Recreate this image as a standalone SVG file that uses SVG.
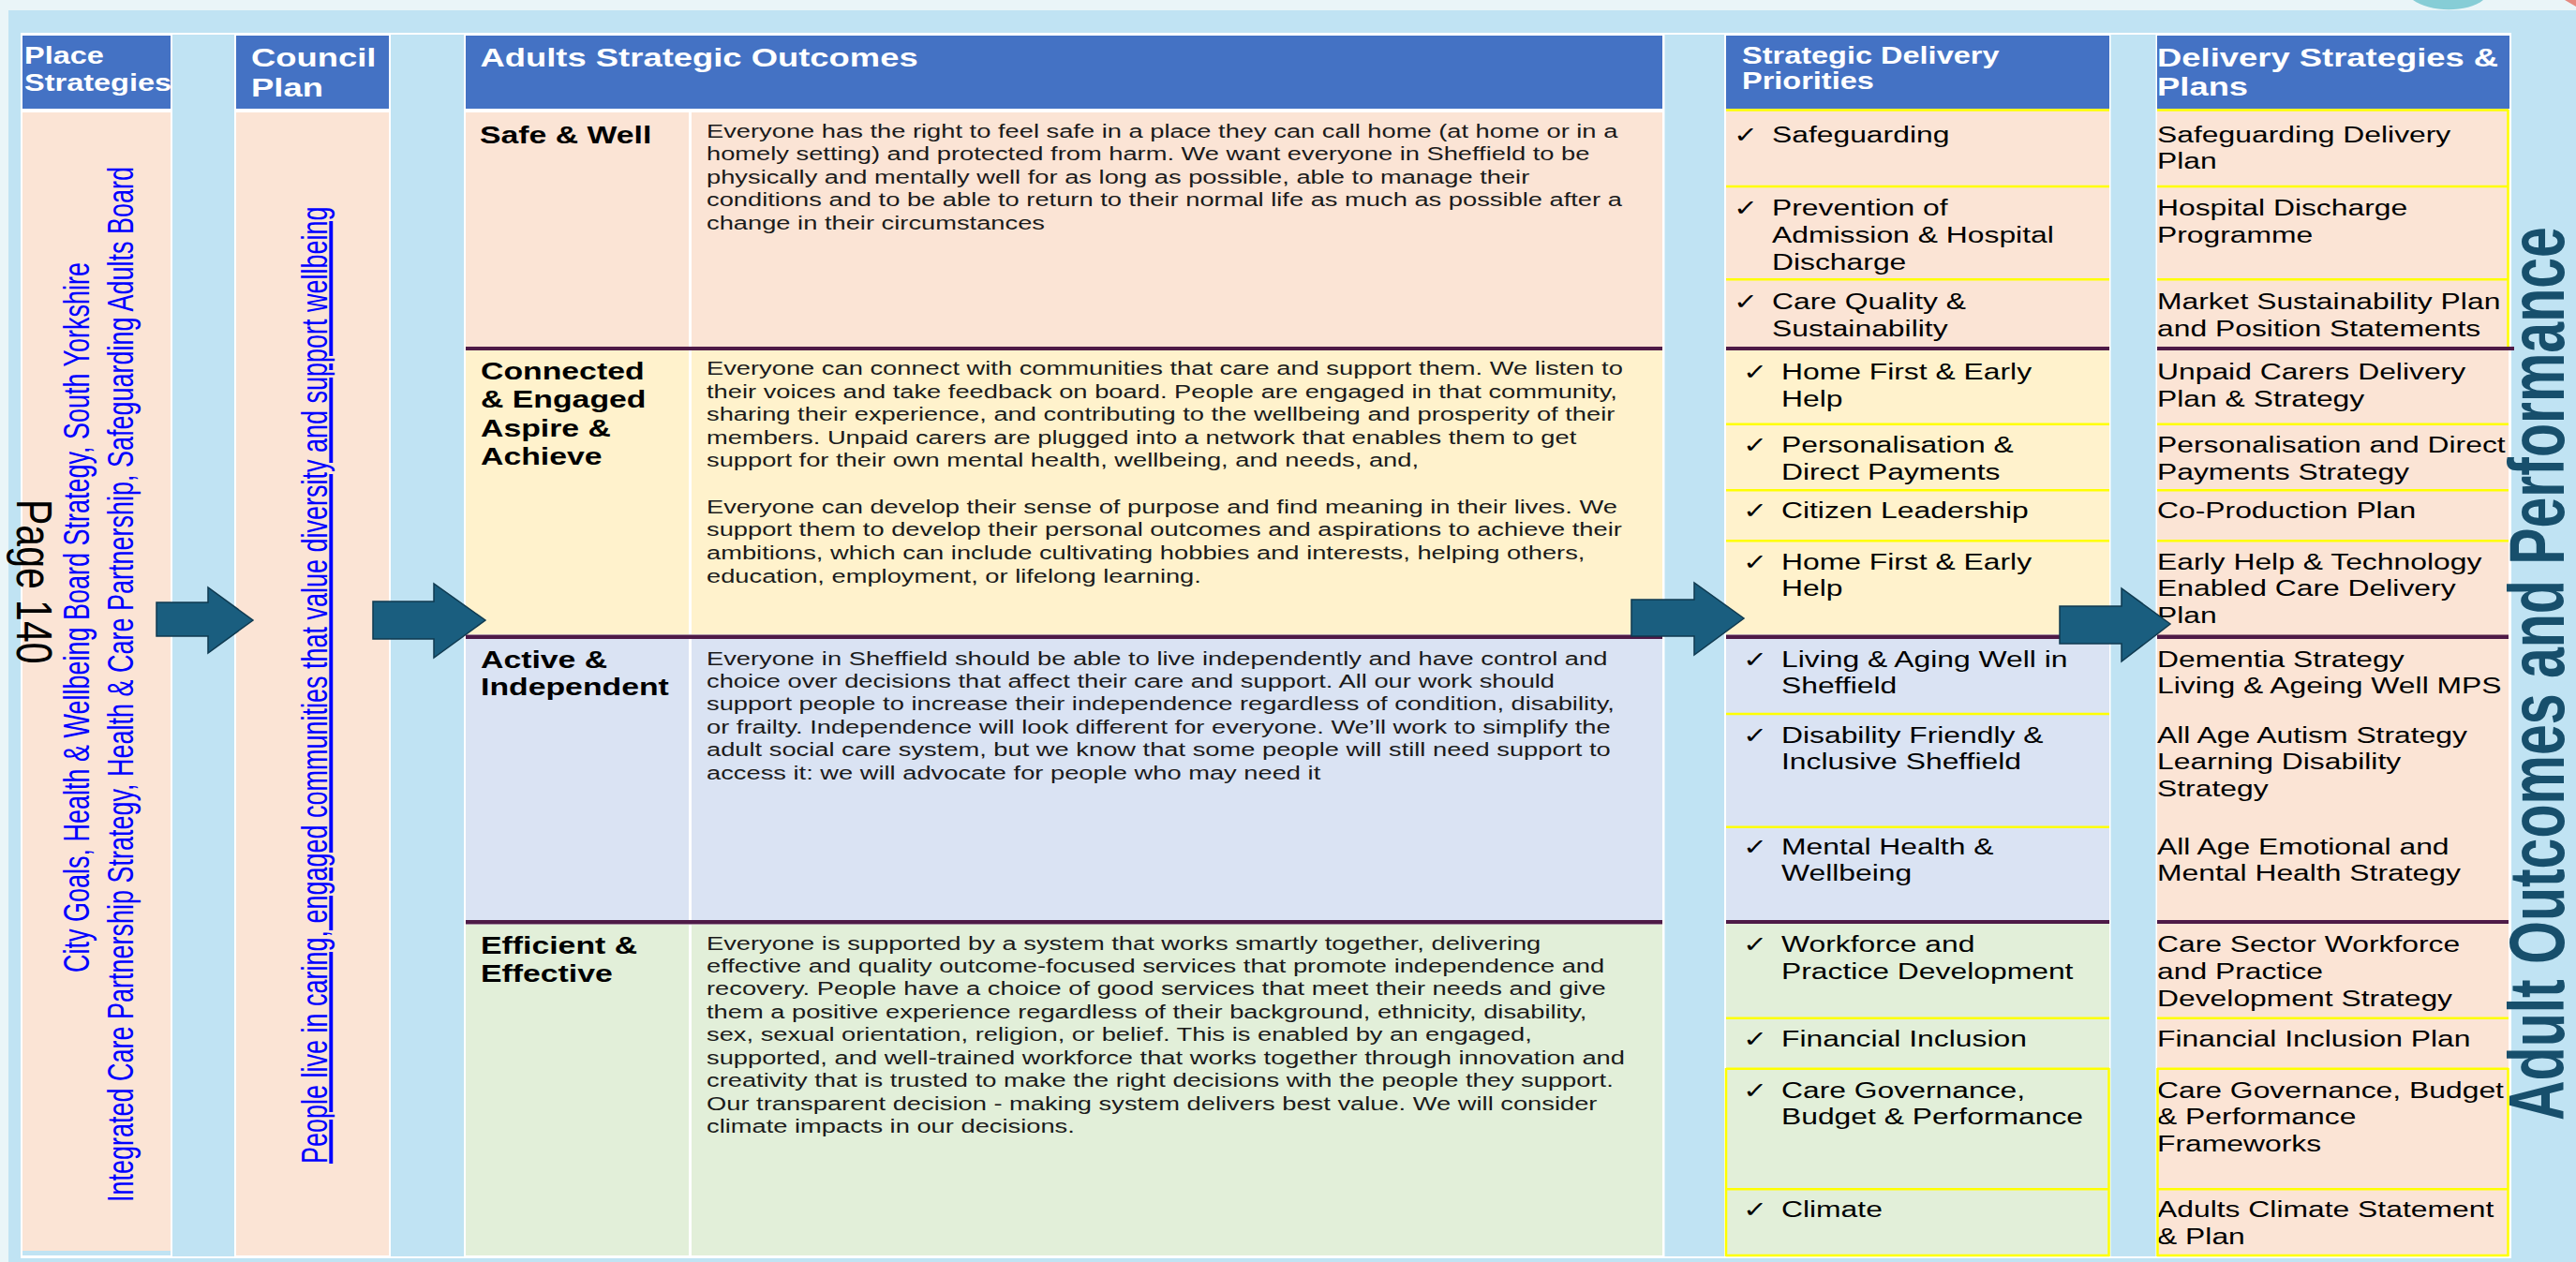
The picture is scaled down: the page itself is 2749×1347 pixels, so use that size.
<svg xmlns="http://www.w3.org/2000/svg" width="2749" height="1347" viewBox="0 0 2749 1347">
<style>
.t{font-family:'Liberation Sans',Arial,Helvetica,sans-serif}
.hdr{font-weight:bold;fill:#ffffff}
.h25{font-size:25px}
.h28{font-size:28px}
.ttl{font-weight:bold;font-size:26px;fill:#000}
.desc{font-size:21px;fill:#1a1a1a}
.item{font-size:24.5px;fill:#000}
.chk{font-family:'DejaVu Sans',sans-serif;font-size:24px}
.link{font-size:27px;fill:#0000ff}
.pg{font-size:41px;fill:#000}
.side{font-weight:bold;font-size:59px;fill:#174f6c}
.hb{fill:#4472c4}
.peach{fill:#fbe4d5}
.yel{fill:#fff2cc}
.lav{fill:#dae3f3}
.grn{fill:#e2efd9}
.gap{fill:#c0e3f3}
.pl{fill:#4e1a47}
.yl{stroke:#ffff00;stroke-width:2.5;fill:none}
.wl{fill:#ffffff}
.arrow{fill:#1a5e7f;stroke:#0f3a50;stroke-width:1.5}
</style>
<!-- background -->
<rect x="0" y="0" width="2749" height="1347" fill="#eaf5f8"/>
<rect x="9" y="11" width="2740" height="1336" class="gap"/>
<path d="M2575,0 C2592,13 2633,14 2650,0 Z" fill="#86cdd6"/>
<path d="M2737,0 L2749,0 L2749,7 Z" fill="#e58a80"/>
<!-- table frame -->
<rect x="22" y="35" width="2658" height="1308" fill="#ffffff"/>
<rect x="184" y="37" width="66" height="1304" class="gap"/>
<rect x="417" y="37" width="78" height="1304" class="gap"/>
<rect x="1776.5" y="37" width="63.5" height="1304" class="gap"/>
<rect x="2252.5" y="37" width="48" height="1304" class="gap"/>

<g id="place-strategies">
<rect x="24" y="38" width="158" height="78" class="hb"/>
<rect x="24" y="120" width="158" height="1215" class="peach"/>
<rect x="24" y="1335" width="158" height="5" class="gap"/>
<text class="t hdr h25" transform="translate(26,68) scale(1.3,1)"><tspan x="0" y="0">Place</tspan><tspan x="0" y="29">Strategies</tspan></text>
<text class="t link" transform="translate(95,1038) scale(1.45,1) rotate(-90)">City Goals, Health &amp; Wellbeing Board Strategy, South Yorkshire</text>
<text class="t link" transform="translate(142,1283) scale(1.45,1) rotate(-90)">Integrated Care Partnership Strategy, Health &amp; Care Partnership, Safeguarding Adults Board</text>
<text class="t pg" transform="translate(18,533) scale(1.3,1) rotate(90)">Page 140</text>
</g>

<g id="council-plan">
<rect x="252" y="38" width="163" height="78" class="hb"/>
<rect x="252" y="120" width="163" height="1220" class="peach"/>
<text class="t hdr h28" transform="translate(268,71) scale(1.3,1)"><tspan x="0" y="0">Council</tspan><tspan x="0" y="32">Plan</tspan></text>
<text class="t link" text-decoration="underline" transform="translate(349,1242) scale(1.45,1) rotate(-90)">People live in caring, engaged communities that value diversity and support wellbeing</text>
</g>

<g id="adults-strategic-outcomes">
<rect x="497" y="38" width="1277" height="78" class="hb"/>
<text class="t hdr h28" transform="translate(512.5,71) scale(1.3,1)">Adults Strategic Outcomes</text>
<g id="outcome-safe-well">
<rect x="497" y="120" width="1277" height="250" class="peach"/>
<rect x="735" y="120" width="3" height="250" class="wl"/>
<text class="t ttl" transform="translate(512,152.5) scale(1.3,1)">Safe &amp; Well</text>
<text class="t desc" transform="translate(754,147) scale(1.3,1)"><tspan x="0" y="0">Everyone has the right to feel safe in a place they can call home (at home or in a</tspan><tspan x="0" y="24.5">homely setting) and protected from harm. We want everyone in Sheffield to be</tspan><tspan x="0" y="49">physically and mentally well for as long as possible, able to manage their</tspan><tspan x="0" y="73.5">conditions and to be able to return to their normal life as much as possible after a</tspan><tspan x="0" y="98">change in their circumstances</tspan></text>
</g>
<g id="outcome-connected">
<rect x="497" y="374" width="1277" height="303" class="yel"/>
<rect x="735" y="374" width="3" height="303" class="wl"/>
<text class="t ttl" transform="translate(513,405) scale(1.3,1)"><tspan x="0" y="0">Connected</tspan><tspan x="0" y="30.5">&amp; Engaged</tspan><tspan x="0" y="61">Aspire &amp;</tspan><tspan x="0" y="91.5">Achieve</tspan></text>
<text class="t desc" transform="translate(754,400) scale(1.3,1)"><tspan x="0" y="0">Everyone can connect with communities that care and support them. We listen to</tspan><tspan x="0" y="24.6">their voices and take feedback on board. People are engaged in that community,</tspan><tspan x="0" y="49.2">sharing their experience, and contributing to the wellbeing and prosperity of their</tspan><tspan x="0" y="73.8">members. Unpaid carers are plugged into a network that enables them to get</tspan><tspan x="0" y="98.4">support for their own mental health, wellbeing, and needs, and,</tspan><tspan x="0" y="147.8">Everyone can develop their sense of purpose and find meaning in their lives. We</tspan><tspan x="0" y="172.4">support them to develop their personal outcomes and aspirations to achieve their</tspan><tspan x="0" y="197">ambitions, which can include cultivating hobbies and interests, helping others,</tspan><tspan x="0" y="221.6">education, employment, or lifelong learning.</tspan></text>
</g>
<g id="outcome-active">
<rect x="497" y="682" width="1277" height="300" class="lav"/>
<rect x="735" y="682" width="3" height="300" class="wl"/>
<text class="t ttl" transform="translate(513,712.5) scale(1.3,1)"><tspan x="0" y="0">Active &amp;</tspan><tspan x="0" y="30">Independent</tspan></text>
<text class="t desc" transform="translate(754,709.5) scale(1.3,1)"><tspan x="0" y="0">Everyone in Sheffield should be able to live independently and have control and</tspan><tspan x="0" y="24.5">choice over decisions that affect their care and support. All our work should</tspan><tspan x="0" y="49">support people to increase their independence regardless of condition, disability,</tspan><tspan x="0" y="73.5">or frailty. Independence will look different for everyone. We’ll work to simplify the</tspan><tspan x="0" y="98">adult social care system, but we know that some people will still need support to</tspan><tspan x="0" y="122.5">access it: we will advocate for people who may need it</tspan></text>
</g>
<g id="outcome-efficient">
<rect x="497" y="987" width="1277" height="353" class="grn"/>
<rect x="735" y="987" width="3" height="353" class="wl"/>
<text class="t ttl" transform="translate(513,1018) scale(1.3,1)"><tspan x="0" y="0">Efficient &amp;</tspan><tspan x="0" y="30">Effective</tspan></text>
<text class="t desc" transform="translate(754,1013.5) scale(1.3,1)"><tspan x="0" y="0">Everyone is supported by a system that works smartly together, delivering</tspan><tspan x="0" y="24.5">effective and quality outcome-focused services that promote independence and</tspan><tspan x="0" y="49">recovery. People have a choice of good services that meet their needs and give</tspan><tspan x="0" y="73.5">them a positive experience regardless of their background, ethnicity, disability,</tspan><tspan x="0" y="98">sex, sexual orientation, religion, or belief. This is enabled by an engaged,</tspan><tspan x="0" y="122.5">supported, and well-trained workforce that works together through innovation and</tspan><tspan x="0" y="147">creativity that is trusted to make the right decisions with the people they support.</tspan><tspan x="0" y="171.5">Our transparent decision - making system delivers best value. We will consider</tspan><tspan x="0" y="196">climate impacts in our decisions.</tspan></text>
</g>
</g>

<g id="strategic-delivery-priorities">
<rect x="1842" y="38" width="409" height="78" class="hb"/>
<text class="t hdr h25" transform="translate(1859,68.3) scale(1.3,1)"><tspan x="0" y="0">Strategic Delivery</tspan><tspan x="0" y="27">Priorities</tspan></text>
<rect x="1842" y="116" width="409" height="254" class="peach"/>
<rect x="1842" y="374" width="409" height="303" class="yel"/>
<rect x="1842" y="682" width="409" height="300" class="lav"/>
<rect x="1842" y="986" width="409" height="355" class="grn"/>
<text class="t item" transform="translate(1850,151.7) scale(1.3,1)"><tspan class="chk" x="0" y="0">✓</tspan><tspan x="31.5" y="0">Safeguarding</tspan></text>
<text class="t item" transform="translate(1850,230) scale(1.3,1)"><tspan class="chk" x="0" y="0">✓</tspan><tspan x="31.5" y="0">Prevention of</tspan><tspan x="31.5" y="28.8">Admission &amp; Hospital</tspan><tspan x="31.5" y="57.6">Discharge</tspan></text>
<text class="t item" transform="translate(1850,330) scale(1.3,1)"><tspan class="chk" x="0" y="0">✓</tspan><tspan x="31.5" y="0">Care Quality &amp;</tspan><tspan x="31.5" y="28.8">Sustainability</tspan></text>
<text class="t item" transform="translate(1860,405) scale(1.3,1)"><tspan class="chk" x="0" y="0">✓</tspan><tspan x="31.5" y="0">Home First &amp; Early</tspan><tspan x="31.5" y="28.8">Help</tspan></text>
<text class="t item" transform="translate(1860,483.3) scale(1.3,1)"><tspan class="chk" x="0" y="0">✓</tspan><tspan x="31.5" y="0">Personalisation &amp;</tspan><tspan x="31.5" y="28.8">Direct Payments</tspan></text>
<text class="t item" transform="translate(1860,553.3) scale(1.3,1)"><tspan class="chk" x="0" y="0">✓</tspan><tspan x="31.5" y="0">Citizen Leadership</tspan></text>
<text class="t item" transform="translate(1860,607.7) scale(1.3,1)"><tspan class="chk" x="0" y="0">✓</tspan><tspan x="31.5" y="0">Home First &amp; Early</tspan><tspan x="31.5" y="28.8">Help</tspan></text>
<text class="t item" transform="translate(1860,711.7) scale(1.3,1)"><tspan class="chk" x="0" y="0">✓</tspan><tspan x="31.5" y="0">Living &amp; Aging Well in</tspan><tspan x="31.5" y="28.8">Sheffield</tspan></text>
<text class="t item" transform="translate(1860,792.7) scale(1.3,1)"><tspan class="chk" x="0" y="0">✓</tspan><tspan x="31.5" y="0">Disability Friendly &amp;</tspan><tspan x="31.5" y="28.8">Inclusive Sheffield</tspan></text>
<text class="t item" transform="translate(1860,911.7) scale(1.3,1)"><tspan class="chk" x="0" y="0">✓</tspan><tspan x="31.5" y="0">Mental Health &amp;</tspan><tspan x="31.5" y="28.8">Wellbeing</tspan></text>
<text class="t item" transform="translate(1860,1016) scale(1.3,1)"><tspan class="chk" x="0" y="0">✓</tspan><tspan x="31.5" y="0">Workforce and</tspan><tspan x="31.5" y="28.8">Practice Development</tspan></text>
<text class="t item" transform="translate(1860,1116.7) scale(1.3,1)"><tspan class="chk" x="0" y="0">✓</tspan><tspan x="31.5" y="0">Financial Inclusion</tspan></text>
<text class="t item" transform="translate(1860,1171.7) scale(1.3,1)"><tspan class="chk" x="0" y="0">✓</tspan><tspan x="31.5" y="0">Care Governance,</tspan><tspan x="31.5" y="28.8">Budget &amp; Performance</tspan></text>
<text class="t item" transform="translate(1860,1299.3) scale(1.3,1)"><tspan class="chk" x="0" y="0">✓</tspan><tspan x="31.5" y="0">Climate</tspan></text>
</g>

<g id="delivery-strategies-plans">
<rect x="2302" y="38" width="376" height="78" class="hb"/>
<text class="t hdr h28" transform="translate(2302,71) scale(1.3,1)"><tspan x="0" y="0">Delivery Strategies &amp;</tspan><tspan x="0" y="30.7">Plans</tspan></text>
<rect x="2302" y="116" width="375" height="1225" class="peach"/>
<text class="t item" transform="translate(2302,151.7) scale(1.3,1)"><tspan x="0" y="0">Safeguarding Delivery</tspan><tspan x="0" y="28.8">Plan</tspan></text>
<text class="t item" transform="translate(2302,230) scale(1.3,1)"><tspan x="0" y="0">Hospital Discharge</tspan><tspan x="0" y="28.8">Programme</tspan></text>
<text class="t item" transform="translate(2302,330) scale(1.3,1)"><tspan x="0" y="0">Market Sustainability Plan</tspan><tspan x="0" y="28.8">and Position Statements</tspan></text>
<text class="t item" transform="translate(2302,405) scale(1.3,1)"><tspan x="0" y="0">Unpaid Carers Delivery</tspan><tspan x="0" y="28.8">Plan &amp; Strategy</tspan></text>
<text class="t item" transform="translate(2302,483.3) scale(1.3,1)"><tspan x="0" y="0">Personalisation and Direct</tspan><tspan x="0" y="28.8">Payments Strategy</tspan></text>
<text class="t item" transform="translate(2302,553.3) scale(1.3,1)">Co-Production Plan</text>
<text class="t item" transform="translate(2302,607.7) scale(1.3,1)"><tspan x="0" y="0">Early Help &amp; Technology</tspan><tspan x="0" y="28.8">Enabled Care Delivery</tspan><tspan x="0" y="57.6">Plan</tspan></text>
<text class="t item" transform="translate(2302,711.7) scale(1.3,1)"><tspan x="0" y="0">Dementia Strategy</tspan><tspan x="0" y="28.8">Living &amp; Ageing Well MPS</tspan></text>
<text class="t item" transform="translate(2302,792.7) scale(1.3,1)"><tspan x="0" y="0">All Age Autism Strategy</tspan><tspan x="0" y="28.8">Learning Disability</tspan><tspan x="0" y="57.6">Strategy</tspan></text>
<text class="t item" transform="translate(2302,911.7) scale(1.3,1)"><tspan x="0" y="0">All Age Emotional and</tspan><tspan x="0" y="28.8">Mental Health Strategy</tspan></text>
<text class="t item" transform="translate(2302,1016) scale(1.3,1)"><tspan x="0" y="0">Care Sector Workforce</tspan><tspan x="0" y="28.8">and Practice</tspan><tspan x="0" y="57.6">Development Strategy</tspan></text>
<text class="t item" transform="translate(2302,1116.7) scale(1.3,1)">Financial Inclusion Plan</text>
<text class="t item" transform="translate(2302,1171.7) scale(1.3,1)"><tspan x="0" y="0">Care Governance, Budget</tspan><tspan x="0" y="28.8">&amp; Performance</tspan><tspan x="0" y="57.6">Frameworks</tspan></text>
<text class="t item" transform="translate(2302,1299.3) scale(1.3,1)"><tspan x="0" y="0">Adults Climate Statement</tspan><tspan x="0" y="28.8">&amp; Plan</tspan></text>
</g>

<g id="cell-borders">
<path class="yl" d="M1842,117.5H2251M2302,117.5H2677M1842,199H2251M2302,199H2677M1842,298.3H2251M2302,298.3H2677M2676.5,117V370M1842,452.7H2251M2302,452.7H2677M1842,523.3H2251M2302,523.3H2677M1842,577.3H2251M2302,577.3H2677M1842,762H2251M1842,882.7H2251M1842,1086.7H2251M2302,1086.7H2677M1842,1140.7H2251M2302,1140.7H2677M1842,1269.3H2251M2302,1269.3H2677M1842,1340H2251M2302,1340H2677M1842,1140V1341M2250.5,1140V1341M2302.5,1140V1341M2676.5,1140V1341"/>
<rect x="497" y="370" width="1277" height="4" class="pl"/>
<rect x="497" y="677.5" width="1277" height="4.5" class="pl"/>
<rect x="497" y="982" width="1277" height="4.5" class="pl"/>
<rect x="1842" y="370" width="409" height="4" class="pl"/>
<rect x="1842" y="677.5" width="409" height="4.5" class="pl"/>
<rect x="1842" y="982" width="409" height="4" class="pl"/>
<rect x="2302" y="370" width="381" height="4" class="pl"/>
<rect x="2302" y="677.5" width="375" height="4.5" class="pl"/>
<rect x="2302" y="982" width="375" height="4" class="pl"/>
</g>

<g id="side-title">
<text class="t side" transform="translate(2736,1196) scale(1.42,1) rotate(-90)">Adult Outcomes and Performance</text>
</g>

<g id="connectors">
<polygon class="arrow" points="167,643 222,643 222,627 270,662 222,697 222,679 167,679"/>
<polygon class="arrow" points="398,642 463,642 463,623 518,662 463,702 463,682 398,682"/>
<polygon class="arrow" points="1741,640 1808,640 1808,622 1861,660 1808,699 1808,679 1741,679"/>
<polygon class="arrow" points="2198,647 2264,647 2264,628 2316,666 2264,706 2264,687 2198,687"/>
</g>
</svg>
